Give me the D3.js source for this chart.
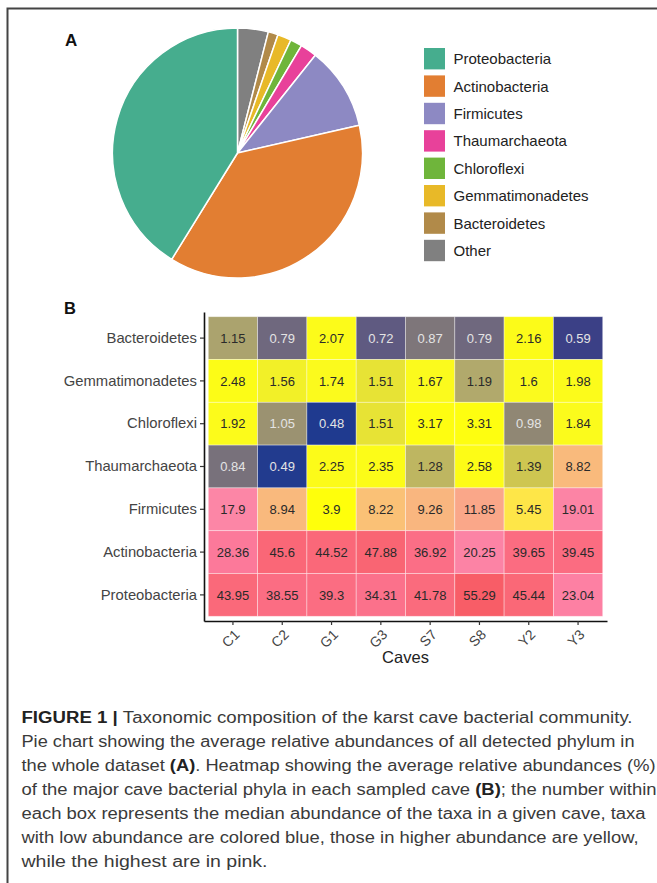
<!DOCTYPE html>
<html>
<head>
<meta charset="utf-8">
<script src="https://cdn.jsdelivr.net/npm/d3@7"></script>
<style>
  html, body { margin: 0; padding: 0; background: #fff; }
  svg { display: block; font-family: "Liberation Sans", Arial, sans-serif; }
</style>
</head>
<body>
<svg id="fig" width="657" height="883"></svg>
<script>
// ---------- DATA ----------
const pieNames  = ["Proteobacteria","Actinobacteria","Firmicutes","Thaumarchaeota","Chloroflexi","Gemmatimonadetes","Bacteroidetes","Other"];
const pieValues = [41.2, 37.4, 10.75, 2.14, 1.53, 1.78, 1.28, 3.97];
const pieColors = ["#46ad8e","#e27e32","#8d89c3","#e8419a","#6fb53b","#e8b928","#b18a49","#808080"];

const caves = ["C1","C2","G1","G3","S7","S8","Y2","Y3"];
const phyla = ["Bacteroidetes","Gemmatimonadetes","Chloroflexi","Thaumarchaeota","Firmicutes","Actinobacteria","Proteobacteria"];
const bacteroidetes    = [1.15, 0.79, 2.07, 0.72, 0.87, 0.79, 2.16, 0.59];
const gemmatimonadetes = [2.48, 1.56, 1.74, 1.51, 1.67, 1.19, 1.6, 1.98];
const chloroflexi      = [1.92, 1.05, 0.48, 1.51, 3.17, 3.31, 0.98, 1.84];
const thaumarchaeota   = [0.84, 0.49, 2.25, 2.35, 1.28, 2.58, 1.39, 8.82];
const firmicutes       = [17.9, 8.94, 3.9, 8.22, 9.26, 11.85, 5.45, 19.01];
const actinobacteria   = [28.36, 45.6, 44.52, 47.88, 36.92, 20.25, 39.65, 39.45];
const proteobacteria   = [43.95, 38.55, 39.3, 34.31, 41.78, 55.29, 45.44, 23.04];
const heatRows = [bacteroidetes, gemmatimonadetes, chloroflexi, thaumarchaeota, firmicutes, actinobacteria, proteobacteria];

const colorStops = [0.48, 0.6, 0.75, 0.9, 1.05, 1.2, 1.4, 1.6, 4, 6, 9, 12, 18, 25, 35, 45, 56];
const colorRange = ["#1f3a8f","#3d4085","#686180","#837b78","#9b9271","#b3ab6c","#cfc750","#fbfa1e","#ffff0a","#fddc60","#f9b87e","#faa68a","#fc85a6","#fd7ea2","#fb7089","#fa6878","#f85c66"];

const captionLines = [
  [{t:"FIGURE 1 | ", b:true},{t:"Taxonomic composition of the karst cave bacterial community."}],
  [{t:"Pie chart showing the average relative abundances of all detected phylum in"}],
  [{t:"the whole dataset "},{t:"(A)", b:true},{t:". Heatmap showing the average relative abundances (%)"}],
  [{t:"of the major cave bacterial phyla in each sampled cave "},{t:"(B)", b:true},{t:"; the number within"}],
  [{t:"each box represents the median abundance of the taxa in a given cave, taxa"}],
  [{t:"with low abundance are colored blue, those in higher abundance are yellow,"}],
  [{t:"while the highest are in pink."}]
];
const captionWidths = [611, 613, 634, 635, 624, 617, 246];

// ---------- DRAW ----------
const svg = d3.select("#fig");

// frame (top + left)
svg.append("path")
  .attr("d", "M7.5,883 L7.5,8.5 L657,8.5")
  .attr("fill","none").attr("stroke","#444").attr("stroke-width",2);

// Panel labels
svg.append("text").attr("x",65).attr("y",46).attr("font-weight","bold").attr("font-size",17).attr("fill","#111").text("A");
svg.append("text").attr("x",64).attr("y",314).attr("font-weight","bold").attr("font-size",16.5).attr("fill","#111").text("B");

// ---- Pie ----
const cx = 237.5, cy = 153, R = 125;
const pieData = pieNames.map((n,i)=>({name:n, value:pieValues[i], color:pieColors[i]})).reverse();
const pie = d3.pie().sort(null).value(d=>d.value);
const arc = d3.arc().innerRadius(0).outerRadius(R);
const gp = svg.append("g").attr("transform",`translate(${cx},${cy})`);
gp.selectAll("path").data(pie(pieData)).join("path")
  .attr("d", arc).attr("fill", d=>d.data.color)
  .attr("stroke","#fff").attr("stroke-width",1.5).attr("stroke-linejoin","round");

// legend
const lg = svg.append("g");
const ly = d3.scaleBand().domain(pieNames).range([48, 48 + 27.4*8]);
pieNames.forEach((n,i)=>{
  lg.append("rect").attr("x",424).attr("y",ly(n)).attr("width",21).attr("height",21.4).attr("fill",pieColors[i]);
  lg.append("text").attr("x",453.5).attr("y",ly(n)+10.7).attr("dy","0.36em")
    .attr("font-size",15).attr("fill","#222").text(n);
});

// ---- Heatmap ----
const x = d3.scaleBand().domain(caves).range([204, 607]).paddingInner(0).paddingOuter(0.087);
const y = d3.scaleBand().domain(phyla).range([312, 621]).paddingInner(0).paddingOuter(0.11);
const color = d3.scaleLinear().domain(colorStops).range(colorRange).clamp(true);

const cells = [];
phyla.forEach((p,ri)=>caves.forEach((c,ci)=>cells.push({p, c, v: heatRows[ri][ci]})));

const gh = svg.append("g");
gh.selectAll("rect").data(cells).join("rect")
  .attr("x", d=>x(d.c)).attr("y", d=>y(d.p))
  .attr("width", x.bandwidth()).attr("height", y.bandwidth())
  .attr("fill", d=>color(d.v))
  .attr("stroke","rgba(255,255,255,0.45)").attr("stroke-width",0.8);
gh.selectAll("text").data(cells).join("text")
  .attr("x", d=>x(d.c)+x.bandwidth()/2).attr("y", d=>y(d.p)+y.bandwidth()/2)
  .attr("dy","0.36em").attr("text-anchor","middle")
  .attr("font-size",13).attr("fill", d=> d.v < 1.1 ? "#e4e4e4" : "#2a2a2a")
  .text(d=>d.v);

// axes
const ax = svg.append("g").attr("transform","translate(204,0)")
  .call(d3.axisLeft(y).tickSize(4).tickSizeOuter(0).tickPadding(3));
ax.select(".domain").attr("stroke","#111").attr("stroke-width",1.6);
ax.selectAll(".tick line").attr("stroke","#333").attr("stroke-width",1.2);
ax.selectAll(".tick text").attr("font-size",14.8).attr("fill","#444").attr("font-family","Liberation Sans, Arial, sans-serif");

const bx = svg.append("g").attr("transform","translate(0,621)")
  .call(d3.axisBottom(x).tickSize(4).tickSizeOuter(0));
bx.select(".domain").attr("stroke","#111").attr("stroke-width",1.6);
bx.selectAll(".tick line").attr("stroke","#333").attr("stroke-width",1.2);
bx.selectAll(".tick text")
  .attr("font-size",14).attr("fill","#444").attr("font-family","Liberation Sans, Arial, sans-serif")
  .attr("text-anchor","end").attr("x",0).attr("y",0).attr("dy",0)
  .attr("transform","translate(7.5,14.5) rotate(-45)");

svg.append("text").attr("x",405.5).attr("y",663).attr("text-anchor","middle")
  .attr("font-size",16.5).attr("fill","#222").text("Caves");

// ---- Caption ----
const cap = svg.append("g");
captionLines.forEach((segs,i)=>{
  const t = cap.append("text").attr("x",21.5).attr("y",722.5 + i*24.15)
    .attr("font-size",16).attr("fill","#3a3a3a")
    .attr("textLength", captionWidths[i]).attr("lengthAdjust","spacingAndGlyphs");
  segs.forEach(s=>{
    t.append("tspan").attr("font-weight", s.b ? "bold" : "normal")
      .attr("fill", s.b ? "#222" : "#3a3a3a").text(s.t);
  });
});
</script>
</body>
</html>
